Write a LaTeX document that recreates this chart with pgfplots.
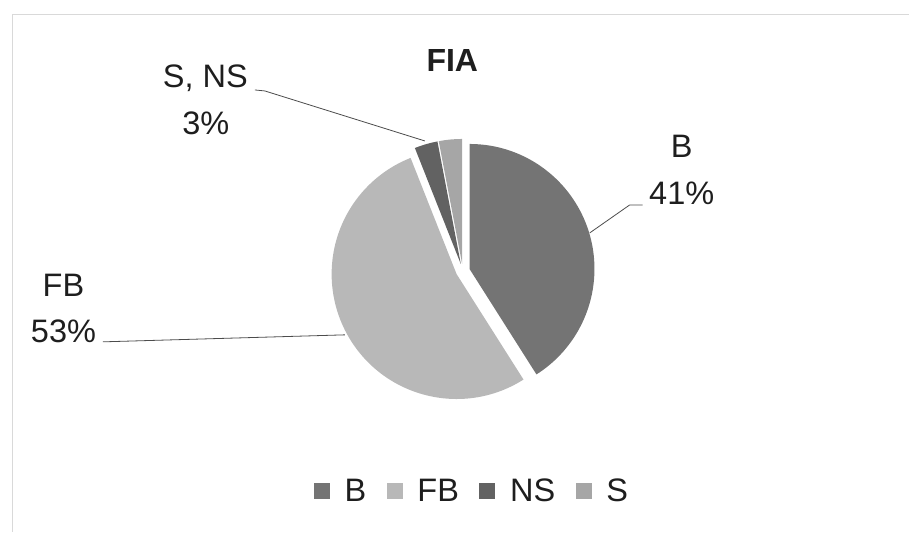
\documentclass[border=0pt]{standalone}
\usepackage{pgfplots}
\pgfplotsset{compat=1.18}
\usepackage{pgfplotstable}
\usetikzlibrary{calc}
\usepackage{fontspec}
\setmainfont{Liberation Sans}

\definecolor{cB}{HTML}{747474}
\definecolor{cFB}{HTML}{B8B8B8}
\definecolor{cNS}{HTML}{626262}
\definecolor{cS}{HTML}{A6A6A6}
\definecolor{txt}{HTML}{1E1E1E}

\pgfplotstableread{
label value color
B 41 cB
FB 53 cFB
NS 3 cNS
S 3 cS
}\piedata

\begin{document}
\begin{tikzpicture}
\begin{axis}[
  scale only axis, width=909bp, height=532bp,
  xmin=0, xmax=909, ymin=0, ymax=532,
  axis lines=none, clip=false,
  legend columns=4,
  legend style={at={(axis cs:475,41)}, anchor=center, draw=none, fill=none,
    font=\fontsize{32.5bp}{38bp}\selectfont\color{txt},
    nodes={inner xsep=7.5bp, inner ysep=1bp},
    /tikz/every even column/.append style={column sep=13bp}},
]
\path (axis cs:0,0) rectangle (axis cs:909,532);
\draw[black!15, line width=0.8bp] (axis cs:12,0) -- (axis cs:12,518) -- (axis cs:909,518);

\addlegendimage{legend image code/.code={\fill[cB] (0bp,-7.5bp) rectangle (15bp,7.5bp); \path[draw=none,fill=none] (15bp,0) -- (23bp,0);}}
\addlegendentry{B}
\addlegendimage{legend image code/.code={\fill[cFB] (0bp,-7.5bp) rectangle (15bp,7.5bp); \path[draw=none,fill=none] (15bp,0) -- (23bp,0);}}
\addlegendentry{FB}
\addlegendimage{legend image code/.code={\fill[cNS] (0bp,-7.5bp) rectangle (15bp,7.5bp); \path[draw=none,fill=none] (15bp,0) -- (23bp,0);}}
\addlegendentry{NS}
\addlegendimage{legend image code/.code={\fill[cS] (0bp,-7.5bp) rectangle (15bp,7.5bp); \path[draw=none,fill=none] (15bp,0) -- (23bp,0);}}
\addlegendentry{S}

\pgfplotsextra{%
  \gdef\curangle{90}%
  \pgfplotstablegetrowsof{\piedata}%
  \pgfmathtruncatemacro{\lastrow}{\pgfplotsretval-1}%
  \foreach \i in {0,...,\lastrow}{%
    \pgfplotstablegetelem{\i}{value}\of\piedata \let\val\pgfplotsretval
    \pgfplotstablegetelem{\i}{color}\of\piedata \let\col\pgfplotsretval
    \pgfmathsetmacro{\aend}{\curangle-3.6*\val}%
    \pgfmathsetmacro{\amid}{(\curangle+\aend)/2}%
    \fill[\col] ($(axis cs:463,261)+(\amid:7bp)$) -- ++(\curangle:125bp)
      arc[start angle=\curangle, end angle=\aend, radius=125bp] -- cycle;
    \xdef\curangle{\aend}%
  }%
}

% title
\node[anchor=base, text=txt, font=\fontsize{32bp}{38bp}\selectfont\bfseries] at (axis cs:452.5,460) {FIA};

% data labels
\node[anchor=base, text=txt, font=\fontsize{32.5bp}{38bp}\selectfont] at (axis cs:205.5,444) {S, NS};
\node[anchor=base, text=txt, font=\fontsize{32.5bp}{38bp}\selectfont] at (axis cs:206,397) {3\%};
\node[anchor=base, text=txt, font=\fontsize{32.5bp}{38bp}\selectfont] at (axis cs:63.5,235) {FB};
\node[anchor=base, text=txt, font=\fontsize{32.5bp}{38bp}\selectfont] at (axis cs:63.5,189) {53\%};
\node[anchor=base, text=txt, font=\fontsize{32.5bp}{38bp}\selectfont] at (axis cs:682,374) {B};
\node[anchor=base, text=txt, font=\fontsize{32.5bp}{38bp}\selectfont] at (axis cs:682,327) {41\%};

% leader lines
\draw[black!70, line width=0.8bp] (axis cs:255,442) -- (axis cs:265,441) -- (axis cs:425,391);
\draw[black!70, line width=0.8bp] (axis cs:103,190) -- (axis cs:345,197);
\draw[black!70, line width=0.8bp] (axis cs:643,327) -- (axis cs:630,327) -- (axis cs:590,299);
\end{axis}
\end{tikzpicture}
\end{document}
